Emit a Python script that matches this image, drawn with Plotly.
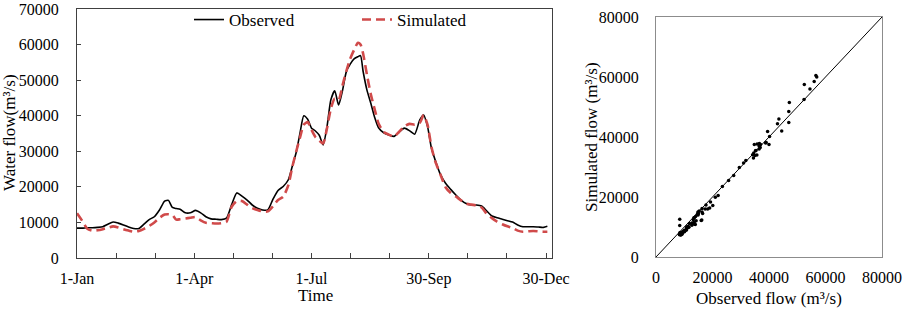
import plotly.graph_objects as go

# ---------------- data ----------------
DAYS = [0, 4, 8, 12, 16, 20, 24, 28, 32, 36, 40, 44, 48, 52, 56, 60, 64, 68, 71, 74,
        77, 80, 84, 88, 92, 96, 100, 104, 108, 112, 116, 120, 124, 128, 132, 136, 140,
        144, 148, 152, 156, 160, 164, 167, 170, 173, 176, 179, 182, 185, 188, 191, 194,
        197, 200, 203, 206, 209, 212, 215, 218, 220, 222, 225, 228, 231, 234, 238, 242,
        246, 250, 254, 258, 262, 266, 269, 272, 275, 278, 282, 286, 290, 294, 298, 302,
        306, 310, 314, 318, 322, 326, 330, 334, 338, 342, 346, 350, 354, 358, 362, 365]

OBSERVED = [8400, 8400, 8500, 8500, 8600, 8800, 9500, 10100, 9800, 9300, 8700, 8300, 8300,
            9500, 10800, 11600, 13500, 16000, 16200, 14200, 13900, 13700, 12700, 12700,
            13400, 12700, 11600, 11000, 10900, 10800, 11200, 15000, 18300, 17400, 16300,
            14900, 14000, 13500, 13500, 16500, 19000, 20100, 22000, 25700, 29500, 35000,
            40000, 39000, 36500, 35700, 34500, 31800, 36900, 44500, 47000, 43000, 47000,
            52400, 54500, 56000, 56600, 56900, 52500, 47200, 43500, 39500, 36600, 35200,
            34600, 34200, 35400, 36500, 35800, 34800, 38800, 40200, 37000, 31000, 27500,
            23500, 21000, 19300, 17700, 16300, 15300, 14900, 14900, 14600, 13200, 11800,
            11300, 10900, 10500, 10100, 9300, 8800, 8800, 8800, 8700, 8600, 8900]

SIMULATED = [12600, 10500, 8200, 7700, 7800, 8100, 8500, 8900, 8600, 8100, 7700, 7400, 7600,
             8200, 9000, 10000, 11300, 12200, 12300, 12100, 10800, 10900, 11100, 11300,
             11500, 10600, 9900, 9800, 9700, 9800, 10200, 14400, 16000, 16000, 15000,
             14000, 13500, 13100, 13100, 14500, 16300, 17200, 20500, 25500, 29800, 33800,
             37500, 38200, 36000, 34000, 33000, 32200, 36500, 42000, 44800, 44400, 48500,
             52500, 56000, 58500, 60500, 60000, 57500, 51500, 46000, 41800, 37800, 35400,
             34700, 34100, 35500, 37000, 37700, 37500, 38000, 40200, 37500, 31300, 27200,
             23500, 19900, 18300, 17300, 16200, 15300, 15000, 14800, 14200, 12400, 11200,
             10200, 9500, 8900, 8400, 7700, 7400, 7500, 7600, 7500, 7400, 7400]

DATE_TICK_DAYS = [0, 91, 182, 273, 364]
DATE_TICK_LABELS = ["1-Jan", "1-Apr", "1-Jul", "30-Sep", "30-Dec"]
MINOR_TICK_DAYS = [30.33, 60.67, 121.33, 151.67, 212.33, 242.67, 303.33, 333.67]
FLOW_TICKS = [0, 10000, 20000, 30000, 40000, 50000, 60000, 70000]
SCATTER_TICKS = [0, 20000, 40000, 60000, 80000]
ONE_TO_ONE = [0, 80000]

# ---------------- figure ----------------
W, H = 906, 311
FONT = "Liberation Serif"

fig = go.Figure()

fig.add_trace(go.Scatter(x=DAYS, y=OBSERVED, mode="lines", name="Observed",
                         line=dict(color="black", width=1.6, shape="spline", smoothing=0.6),
                         xaxis="x", yaxis="y", legend="legend"))
fig.add_trace(go.Scatter(x=DAYS, y=SIMULATED, mode="lines", name="Simulated",
                         line=dict(color="#D04A4A", width=2.6, dash="9px,5px",
                                   shape="spline", smoothing=0.6),
                         xaxis="x", yaxis="y", legend="legend2"))

fig.add_trace(go.Scatter(x=ONE_TO_ONE, y=ONE_TO_ONE, mode="lines", showlegend=False,
                         line=dict(color="black", width=1), xaxis="x2", yaxis="y2"))
fig.add_trace(go.Scatter(x=OBSERVED, y=SIMULATED, mode="markers", showlegend=False,
                         marker=dict(color="black", size=3.5, line=dict(width=0)),
                         xaxis="x2", yaxis="y2"))

def px_x(p):
    return p / W

def px_y(p):
    return 1 - p / H

tickfont = dict(family=FONT, size=16, color="black")

fig.update_layout(
    width=W, height=H, margin=dict(l=0, r=0, t=0, b=0, autoexpand=False),
    paper_bgcolor="white", plot_bgcolor="white",
    font=dict(family=FONT, size=17, color="black"),
    xaxis=dict(domain=[px_x(77), px_x(552)], range=[0, 368.6],
               tickmode="array", tickvals=DATE_TICK_DAYS, ticktext=DATE_TICK_LABELS,
               ticks="inside", ticklen=5, tickcolor="#404040", tickwidth=1,
               minor=dict(tickmode="array", tickvals=MINOR_TICK_DAYS, ticks="inside",
                          ticklen=5, tickcolor="#404040", tickwidth=1),
               showgrid=False, zeroline=False, showline=True, linecolor="#404040",
               linewidth=1.3, mirror=True, tickfont=tickfont, ticklabelstandoff=6,
               automargin=False, anchor="y"),
    yaxis=dict(domain=[px_y(258), px_y(9)], range=[0, 70000],
               tickmode="array", tickvals=FLOW_TICKS, tickformat="d",
               ticks="inside", ticklen=4, tickcolor="#404040", tickwidth=1,
               showgrid=False, zeroline=False, showline=True, linecolor="#404040",
               linewidth=1.3, mirror=True, tickfont=tickfont, ticklabelstandoff=14,
               ticklabeloverflow="allow", automargin=False, anchor="x"),
    xaxis2=dict(domain=[px_x(656), px_x(882)], range=[0, 80000],
                tickmode="array", tickvals=SCATTER_TICKS, tickformat="d", ticks="",
                showgrid=False, zeroline=False, showline=True, linecolor="#8c8c8c",
                linewidth=1, mirror=True, tickfont=tickfont, ticklabelstandoff=6,
                ticklabeloverflow="allow", automargin=False, anchor="y2"),
    yaxis2=dict(domain=[px_y(257), px_y(17)], range=[0, 80000],
                tickmode="array", tickvals=SCATTER_TICKS, tickformat="d", ticks="",
                showgrid=False, zeroline=False, showline=True, linecolor="#8c8c8c",
                linewidth=1, mirror=True, tickfont=tickfont, ticklabelstandoff=13,
                automargin=False, anchor="x2"),
    legend=dict(orientation="h", x=px_x(189), y=px_y(20), xanchor="left", yanchor="middle",
                bgcolor="rgba(0,0,0,0)", font=dict(family=FONT, size=17)),
    legend2=dict(orientation="h", x=px_x(357), y=px_y(20), xanchor="left", yanchor="middle",
                 bgcolor="rgba(0,0,0,0)", font=dict(family=FONT, size=17)),
    annotations=[
        dict(text="Water flow(m³/s)", x=px_x(10), y=px_y(133), xref="paper", yref="paper",
             textangle=-90, showarrow=False, font=dict(family=FONT, size=17),
             xanchor="center", yanchor="middle"),
        dict(text="Time", x=px_x(315), y=px_y(295), xref="paper", yref="paper",
             showarrow=False, font=dict(family=FONT, size=17),
             xanchor="center", yanchor="middle"),
        dict(text="Simulated flow (m³/s)", x=px_x(591), y=px_y(137), xref="paper",
             yref="paper", textangle=-90, showarrow=False, font=dict(family=FONT, size=17),
             xanchor="center", yanchor="middle"),
        dict(text="Observed flow (m³/s)", x=px_x(769), y=px_y(298), xref="paper",
             yref="paper", showarrow=False, font=dict(family=FONT, size=17),
             xanchor="center", yanchor="middle"),
    ],
)

# remove the browser's default 8px page margin so the figure sits at the window origin
fig.write_html("out.html",
               config={"displayModeBar": False},
               post_script="document.body.style.margin='0';document.body.style.overflow='hidden';")
